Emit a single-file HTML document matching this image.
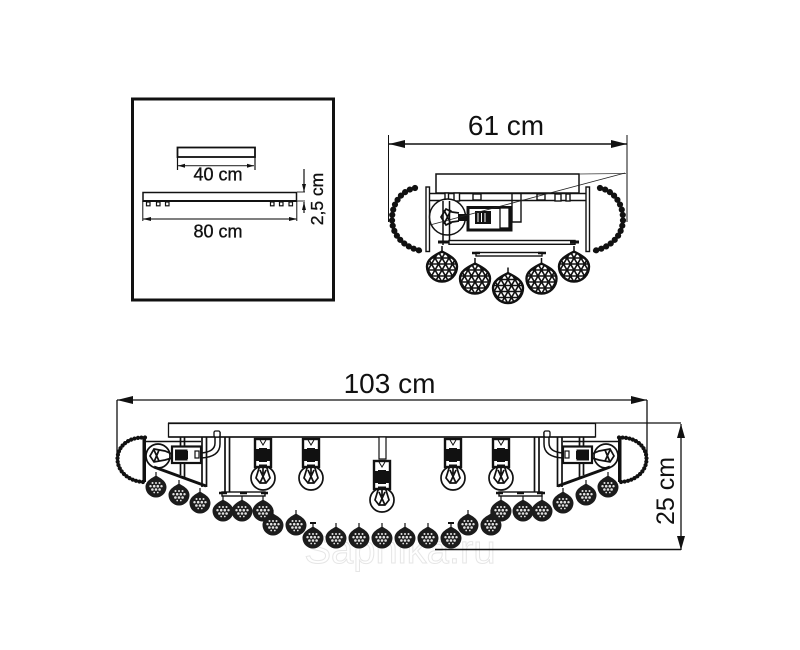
<!DOCTYPE html>
<html><head><meta charset="utf-8"><style>
html,body{margin:0;padding:0;background:#fff;width:800px;height:650px;overflow:hidden}
svg{display:block}
text{font-family:"Liberation Sans",sans-serif;fill:#111}
.h{stroke:#111;stroke-width:.35}
</style></head><body>
<svg width="800" height="650" viewBox="0 0 800 650" xmlns="http://www.w3.org/2000/svg">
<defs>
<pattern id="tri" width="7" height="12" patternUnits="userSpaceOnUse" x="-3.500" y="-3">
<rect width="7" height="12" fill="#fff"/>
<path d="M0 0H7M0 6H7M0 12H7M0 0L3.500 6L7 0M0 12L3.500 6L7 12" stroke="#111" stroke-width="1.600" fill="none"/>
</pattern>
<g id="big">
<line x1="0" y1="-21" x2="0" y2="-14" stroke="#111" stroke-width="1.500"/>
<path d="M0-15.500C4-13 15-9 15-.5A15 15 0 0 1-15-.5C-15-9-4-13 0-15.500Z" fill="url(#tri)" stroke="#111" stroke-width="2.400"/>
</g>
<g id="small">
<line x1="0" y1="-15" x2="0" y2="-9" stroke="#111" stroke-width="1.200"/>
<path d="M0-11.500C3-9.500 10.500-6.500 10.500 0A10.500 10.500 0 0 1-10.500 0C-10.500-6.500-3-9.500 0-11.500Z" fill="#1c1c1c"/>
<g fill="#e4e4e4">
<circle cx="-3.500" cy="-4" r="1"/><circle cx="0" cy="-4" r="1"/><circle cx="3.500" cy="-4" r="1"/>
<circle cx="-5.500" cy="-.8" r="1.200"/><circle cx="-1.800" cy="-.8" r="1.300"/><circle cx="1.800" cy="-.8" r="1.300"/><circle cx="5.500" cy="-.8" r="1.200"/>
<circle cx="-3.600" cy="2.500" r="1.300"/><circle cx="0" cy="2.500" r="1.300"/><circle cx="3.600" cy="2.500" r="1.300"/>
<circle cx="-1.800" cy="5.500" r=".9"/><circle cx="1.800" cy="5.500" r=".9"/>
</g>
</g>
<g id="bulbv">
<circle cx="0" cy="13" r="12" fill="#fff" stroke="#111" stroke-width="1.700"/>
<rect x="-8" y="-26" width="16" height="28" fill="#fff" stroke="#111" stroke-width="2.400"/>
<rect x="-8" y="-16" width="16" height="12" fill="#111"/>
<rect x="-4" y="-17" width="8" height="18" fill="#111"/>
<rect x="-6" y="-3" width="12" height="2.500" fill="#fff"/>
<path d="M-3-25L0-20L3-25" fill="none" stroke="#111" stroke-width="1"/>
<path d="M-3 0L-7 13L-3 18H3L7 13L3 0M-3 5L3 18M3 5L-3 18M0 0V9" fill="none" stroke="#111" stroke-width="1.700"/>
</g>
<g id="sideL">
<path d="M145 437.500C126 437 117.500 448 117.500 459C117.500 471 128 481 143 482" fill="none" stroke="#111" stroke-width="2.400"/>
<path d="M145 437.500C126 437 117.500 448 117.500 459C117.500 471 128 481 143 482" fill="none" stroke="#111" stroke-width="4.200" stroke-dasharray="0 3.500" stroke-linecap="round"/>
<rect x="142.500" y="437" width="3.500" height="45" fill="#111"/>
<path d="M146 441.500H201" stroke="#111" stroke-width="1.500"/>
<path d="M180.500 437V475M184.500 437V477" stroke="#111" stroke-width="1.700"/>
<path d="M202 437V487M206.500 437V487" stroke="#111" stroke-width="1.700"/>
<circle cx="158" cy="456" r="12" fill="#fff" stroke="#111" stroke-width="1.700"/>
<path d="M172 454L165 451L154 449L150 456L154 462L165 460L172 458M159 450L154 462M159 461L154 450" fill="none" stroke="#111" stroke-width="1.700"/>
<rect x="172" y="446.500" width="29" height="16.500" fill="#fff" stroke="#111" stroke-width="2.200"/>
<rect x="175" y="449.500" width="12.500" height="11" fill="#111"/>
<path d="M187 451V459" stroke="#111" stroke-width="2"/>
<rect x="195" y="451" width="4" height="7" fill="#fff" stroke="#111" stroke-width="1.200"/>
<path d="M215 432V443Q215 452 201 453M220 432V444Q220 457 201 458" fill="none" stroke="#111" stroke-width="1.500"/>
<rect x="214" y="431" width="6" height="6" rx="1.500" fill="#fff" stroke="#111" stroke-width="1.300"/>
<path d="M154 467L206 486" stroke="#111" stroke-width="3"/>
<path d="M225 437V495M229.500 437V495" stroke="#111" stroke-width="1.700"/>
<rect x="222" y="492" width="43" height="4" fill="#fff" stroke="#111" stroke-width="1.400"/>
<path d="M219 493H227M240 493H247M261 493H268" stroke="#111" stroke-width="2.500"/>
</g>
</defs>

<rect width="800" height="650" fill="#fff"/>

<!-- watermark -->
<text x="400" y="563" text-anchor="middle" font-size="40" style="fill:#fff;stroke:#e6e6e6;stroke-width:1">Sapnika.ru</text>

<!-- inset box -->
<rect x="132.500" y="99" width="201" height="201" fill="none" stroke="#111" stroke-width="3"/>
<rect x="177.500" y="147.500" width="77.500" height="9.500" fill="none" stroke="#111" stroke-width="1.800"/>
<path d="M177.500 157V170M255 157V170" stroke="#111" stroke-width="1.200"/>
<path d="M178 165.700H254" stroke="#333" stroke-width="1.200"/>
<path d="M178 165.700L185 163.700V167.700ZM254 165.700L247 163.700V167.700Z" fill="#111"/>
<text class="h" x="218" y="180.500" text-anchor="middle" font-size="18">40 cm</text>
<rect x="143" y="192.500" width="153.500" height="8.500" fill="none" stroke="#111" stroke-width="1.500"/>
<path d="M143 201H297" stroke="#111" stroke-width="2"/>
<g fill="#fff" stroke="#111" stroke-width="1.200">
<rect x="146.500" y="202" width="3.500" height="3.800"/><rect x="156.500" y="202" width="3.500" height="3.800"/><rect x="165.500" y="202" width="3.500" height="3.800"/>
<rect x="270.500" y="202" width="3.500" height="3.800"/><rect x="279.500" y="202" width="3.500" height="3.800"/><rect x="289" y="202" width="3.500" height="3.800"/>
</g>
<path d="M142.800 201V221M296.800 201V221" stroke="#111" stroke-width="1"/>
<path d="M143 219H297" stroke="#333" stroke-width="1.200"/>
<path d="M143 219L151 217V221ZM297 219L289 217V221Z" fill="#111"/>
<text class="h" x="218" y="237.500" text-anchor="middle" font-size="18">80 cm</text>
<path d="M297 192H305M297 201H305" stroke="#333" stroke-width="1"/>
<path d="M304 169V192M304 202V213" stroke="#111" stroke-width="1.200"/>
<path d="M304 192L302 184H306ZM304 202L302 210H306Z" fill="#111"/>
<text class="h" transform="translate(323,199) rotate(-90)" text-anchor="middle" font-size="17.500">2,5 cm</text>

<!-- side view -->
<text x="506" y="135" text-anchor="middle" font-size="28">61 cm</text>
<path d="M388.500 135V222M627 135V222" stroke="#111" stroke-width="1"/>
<path d="M389 144H627" stroke="#111" stroke-width="1.500"/>
<path d="M389 144L405 140V148ZM627 144L611 140V148Z" fill="#111"/>
<rect x="436" y="174" width="143" height="19" fill="none" stroke="#111" stroke-width="1.500"/>
<path d="M579 174L626 173.500" stroke="#333" stroke-width=".8"/>
<rect x="429" y="193.500" width="158" height="7" fill="#fff" stroke="#111" stroke-width="1.500"/>
<rect x="426" y="187" width="3.500" height="64.500" fill="#fff" stroke="#111" stroke-width="1.400"/>
<rect x="586" y="187" width="3.500" height="64.500" fill="#fff" stroke="#111" stroke-width="1.400"/>
<path d="M415 188C400 191 392 205 392 219C392 236 405 248 422 251" fill="none" stroke="#111" stroke-width="6.200" stroke-dasharray="0 5.400" stroke-linecap="round"/>
<path d="M415 188C400 191 392 205 392 219C392 236 405 248 422 251" fill="none" stroke="#111" stroke-width="2.500"/>
<path d="M600 188C615 191 623 205 623 219C623 236 610 248 593 251" fill="none" stroke="#111" stroke-width="6.200" stroke-dasharray="0 5.400" stroke-linecap="round"/>
<path d="M600 188C615 191 623 205 623 219C623 236 610 248 593 251" fill="none" stroke="#111" stroke-width="2.500"/>
<g fill="#fff" stroke="#111" stroke-width="1.400">
<rect x="445" y="193" width="3.500" height="8"/><rect x="454" y="193" width="5.500" height="8"/>
<rect x="473" y="194" width="8" height="6"/><rect x="537" y="194" width="8" height="6"/>
<rect x="555" y="194" width="6" height="7"/><rect x="566" y="194" width="4" height="7"/>
</g>
<path d="M512 194V222H521V194" fill="none" stroke="#111" stroke-width="1.400"/>
<circle cx="447.500" cy="217" r="18" fill="#fff" stroke="#111" stroke-width="1.500"/>
<path d="M443 201V245M449.500 201V245" stroke="#111" stroke-width="1.500"/>
<path d="M459 213L452 212L446 209L441 217L446 225L452 222L459 221M451 210L444 224M444 210L451 224" fill="none" stroke="#111" stroke-width="1.700"/>
<rect x="458" y="214" width="9" height="7" fill="#111"/>
<rect x="468" y="207.500" width="43" height="22.500" fill="#fff" stroke="#111" stroke-width="3"/>
<rect x="475" y="211" width="16" height="13" fill="#111"/>
<path d="M478 213V222M481.500 213V222M485 213V222" stroke="#fff" stroke-width="1"/>
<rect x="500" y="208" width="9" height="20" fill="#fff" stroke="#111" stroke-width="1.300"/>
<path d="M625 173L430 225" stroke="#222" stroke-width=".8"/>
<rect x="449" y="240.500" width="126" height="3.800" fill="#fff" stroke="#111" stroke-width="1.400"/>
<path d="M438 242H449M570 242H579" stroke="#111" stroke-width="3"/>
<rect x="476" y="252.500" width="66" height="3.500" fill="#fff" stroke="#111" stroke-width="1.400"/>
<path d="M472 253H480M538 253H546" stroke="#111" stroke-width="2.500"/>
<use href="#big" x="442" y="267"/>
<use href="#big" x="475" y="279"/>
<use href="#big" x="508" y="288.500"/>
<use href="#big" x="541.500" y="279"/>
<use href="#big" x="574" y="267"/>

<!-- front view -->
<text x="389.500" y="393" text-anchor="middle" font-size="28">103 cm</text>
<path d="M117 400H647" stroke="#111" stroke-width="1.300"/>
<path d="M117 400L133 396V404ZM647 400L631 396V404Z" fill="#111"/>
<path d="M117 400V458M647 400V458" stroke="#111" stroke-width="1.300"/>
<path d="M168 423H681" stroke="#111" stroke-width="1.300"/>
<rect x="168.500" y="423.500" width="427" height="13.500" fill="#fff" stroke="#111" stroke-width="1.300"/>
<path d="M168.500 437H595" stroke="#111" stroke-width="1.500"/>
<path d="M435 549.500H681" stroke="#111" stroke-width="1.500"/>
<path d="M681 424V550" stroke="#111" stroke-width="1.300"/>
<path d="M681 424L677 438H685ZM681 550L677 536H685Z" fill="#111"/>
<text transform="translate(674,491) rotate(-90)" text-anchor="middle" font-size="25">25 cm</text>

<use href="#sideL"/>
<use href="#sideL" transform="translate(764,0) scale(-1,1)"/>

<rect x="379" y="437" width="7" height="22" fill="#fff" stroke="#111" stroke-width="1.200"/>
<use href="#bulbv" x="263" y="465"/>
<use href="#bulbv" x="311" y="465"/>
<use href="#bulbv" x="382" y="487"/>
<use href="#bulbv" x="453" y="465"/>
<use href="#bulbv" x="501" y="465"/>

<use href="#small" x="156" y="487"/>
<use href="#small" x="179" y="495"/>
<use href="#small" x="200" y="503"/>
<use href="#small" x="223" y="511"/>
<use href="#small" x="242" y="511"/>
<use href="#small" x="263" y="511"/>
<use href="#small" x="273" y="525"/>
<use href="#small" x="296" y="525"/>
<use href="#small" x="313" y="538"/>
<use href="#small" x="336" y="538"/>
<use href="#small" x="359" y="538"/>
<use href="#small" x="382" y="538"/>
<use href="#small" x="405" y="538"/>
<use href="#small" x="428" y="538"/>
<use href="#small" x="451" y="538"/>
<use href="#small" x="468" y="525"/>
<use href="#small" x="491" y="525"/>
<use href="#small" x="501" y="511"/>
<use href="#small" x="523" y="511"/>
<use href="#small" x="542" y="511"/>
<use href="#small" x="563" y="503"/>
<use href="#small" x="586" y="495"/>
<use href="#small" x="608" y="487"/>
<path d="M310 523H316M448 523H454" stroke="#111" stroke-width="2"/>
</svg>
</body></html>
